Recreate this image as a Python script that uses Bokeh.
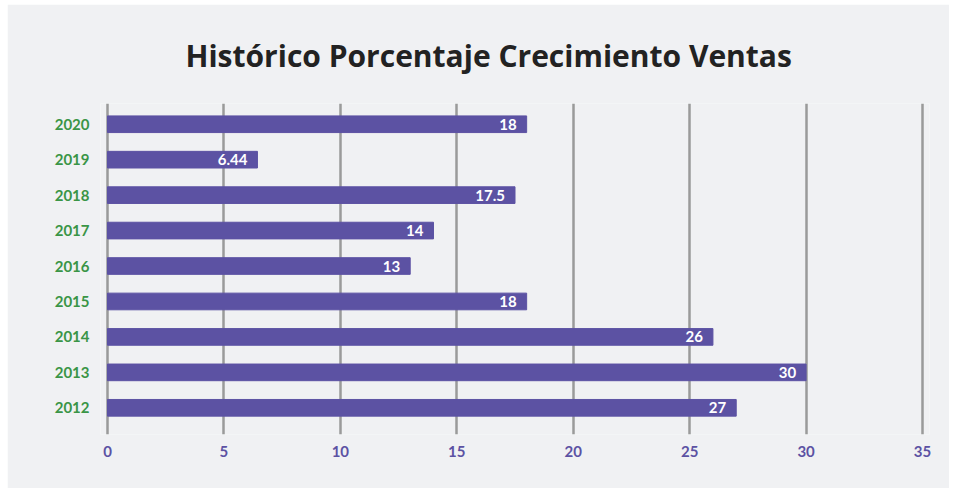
from bokeh.plotting import figure
from bokeh.models import ColumnDataSource, FixedTicker, Range1d
from bokeh.core.properties import value
from bokeh.embed import file_html
from bokeh.resources import INLINE

title_text = "Histórico Porcentaje Crecimiento Ventas"
years = ["2012", "2013", "2014", "2015", "2016", "2017", "2018", "2019", "2020"]
growth = [27, 30, 26, 18, 13, 14, 17.5, 6.44, 18]
x_ticks = [0, 5, 10, 15, 20, 25, 30, 35]

FONT = "Lato"
BG = "#f0f1f3"
BAR = "#5c52a3"

pos = list(range(len(years)))
src = ColumnDataSource(dict(y=pos, v=growth, lab=[f"{g:g}" for g in growth]))

p = figure(width=942, height=484, output_backend="svg", toolbar_location=None,
           x_range=Range1d(-0.3, 35.3), y_range=Range1d(-0.753, 8.585),
           min_border_left=93, min_border_right=20, min_border_top=95, min_border_bottom=54)
p.styles = {"margin-left": "7px", "margin-top": "4px"}
p.background_fill_color = BG
p.border_fill_color = BG
p.outline_line_color = None

p.title.text = title_text
p.title.align = "left"
p.title.offset = 85
p.title.text_font = "Open Sans"
p.title.text_font_size = "30px"
p.title.text_font_style = "bold"
p.title.text_color = "#222222"
p.title.standoff = 56

p.hbar(y="y", right="v", left=0, height=0.47, source=src, color=BAR)
p.text(x="v", y="y", text="lab", source=src, x_offset=-10, text_align="right",
       text_baseline="middle", text_color="white", text_font=value(FONT),
       text_font_size="15px", text_font_style="bold")

p.xaxis.ticker = FixedTicker(ticks=x_ticks)
p.yaxis.ticker = FixedTicker(ticks=pos)
p.yaxis.major_label_overrides = {i: y for i, y in zip(pos, years)}
for ax in (p.xaxis, p.yaxis):
    ax.axis_line_color = None
    ax.major_tick_line_color = None
    ax.minor_tick_line_color = None
    ax.major_tick_out = 0
    ax.major_tick_in = 0
    ax.minor_tick_out = 0
    ax.major_label_text_font = FONT
    ax.major_label_text_font_style = "bold"
    ax.major_label_text_font_size = "15px"
p.xaxis.major_label_text_color = "#5c52a3"
p.yaxis.major_label_text_color = "#3a9546"
p.xaxis.major_label_standoff = 11
p.yaxis.major_label_standoff = 11

p.ygrid.grid_line_color = None
p.xgrid.grid_line_color = "#9a9a9a"
p.xgrid.grid_line_width = 2.5
p.xgrid.level = "underlay"

open("out.html", "w").write(file_html(p, INLINE))
